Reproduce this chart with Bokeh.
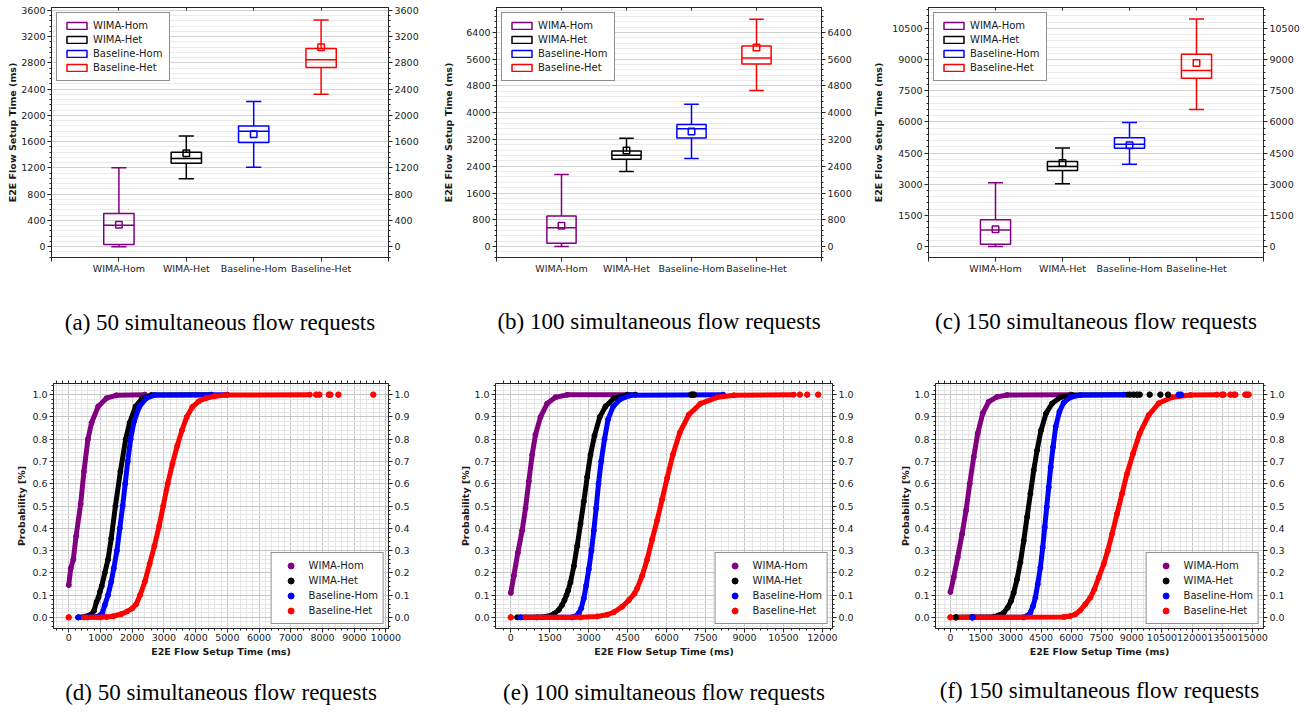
from bokeh.plotting import figure
from bokeh.models import (Range1d, LinearAxis, SingleIntervalTicker, FixedTicker, Grid,
                          PrintfTickFormatter, Legend, LegendItem, ColumnDataSource)
from bokeh.layouts import row, column
from bokeh.transform import dodge
from bokeh.embed import file_html
from bokeh.resources import INLINE

# ---------------- data ----------------
CATEGORIES = ["WIMA-Hom", "WIMA-Het", "Baseline-Hom", "Baseline-Het"]
COLORS = ["#800080", "#000000", "#0000ff", "#ff0000"]

# (a) 50 simultaneous flow requests: box statistics (ms)
A_LOW = [0, 1035, 1212, 2323]
A_Q1 = [35, 1273, 1586, 2732]
A_MED = [328, 1343, 1758, 2848]
A_Q3 = [505, 1439, 1838, 3020]
A_HIGH = [1202, 1687, 2212, 3455]
A_MEAN = [335, 1424, 1712, 3040]

# (b) 100 simultaneous flow requests
B_LOW = [0, 2242, 2629, 4663]
B_Q1 = [99, 2609, 3244, 5456]
B_MED = [565, 2728, 3522, 5635]
B_Q3 = [913, 2857, 3651, 5992]
B_HIGH = [2153, 3234, 4256, 6796]
B_MEAN = [625, 2867, 3442, 5952]

# (c) 150 simultaneous flow requests
C_LOW = [0, 3021, 3964, 6601]
C_Q1 = [112, 3660, 4731, 8103]
C_MED = [799, 3852, 4922, 8471]
C_Q3 = [1295, 4091, 5242, 9254]
C_HIGH = [3069, 4747, 5977, 10948]
C_MEAN = [831, 4027, 4880, 8838]

# (d) CDF, 50 requests
D_WH_X = [0, 63, 145, 230, 376, 480, 605, 720, 929, 1190, 1503, 2400]
D_WH_P = [0.145, 0.22, 0.26, 0.363, 0.509, 0.655, 0.80, 0.874, 0.947, 0.984, 0.997, 1.0]
D_WT_X = [300, 500, 700, 800, 877, 940, 980, 1040, 1137, 1240, 1340, 1472, 1629, 1796, 1921, 2109, 2318, 2600, 4500]
D_WT_P = [0.0, 0.003, 0.012, 0.03, 0.07, 0.09, 0.114, 0.14, 0.20, 0.26, 0.355, 0.50, 0.655, 0.80, 0.874, 0.947, 0.984, 0.998, 1.0]
D_BH_X = [300, 600, 900, 1000, 1060, 1137, 1240, 1340, 1420, 1520, 1610, 1700, 1780, 1860, 1950, 2060, 2230, 2450, 2700, 5000]
D_BH_P = [0.0, 0.0, 0.003, 0.01, 0.02, 0.055, 0.10, 0.16, 0.22, 0.30, 0.40, 0.50, 0.60, 0.70, 0.80, 0.88, 0.947, 0.984, 0.998, 1.0]
D_BT_X = [480, 1000, 1200, 1400, 1660, 1836, 2000, 2130, 2250, 2400, 2550, 2700, 2850, 2980, 3120, 3270, 3420, 3570, 3720, 3900, 4100, 4320, 4600, 4950, 7600]
D_BT_P = [0.0, 0.0, 0.002, 0.005, 0.015, 0.026, 0.04, 0.06, 0.10, 0.16, 0.24, 0.32, 0.41, 0.50, 0.60, 0.69, 0.77, 0.84, 0.90, 0.945, 0.97, 0.984, 0.993, 0.998, 1.0]
D_TAIL_X = [[], [], [], [0, 7800, 7900, 8200, 8250, 8500, 9600]]
D_TAIL_P = [[], [], [], [0.0, 1.0, 1.0, 1.0, 1.0, 1.0, 1.0]]

# (e) CDF, 100 requests
E_WH_X = [0, 116, 270, 437, 565, 693, 822, 950, 1143, 1400, 1721, 2170, 4480]
E_WH_P = [0.11, 0.187, 0.29, 0.39, 0.49, 0.61, 0.73, 0.82, 0.90, 0.96, 0.988, 0.999, 1.0]
E_WT_X = [244, 1000, 1400, 1656, 1849, 1977, 2067, 2144, 2208, 2298, 2427, 2555, 2684, 2812, 2940, 3069, 3223, 3428, 3647, 3968, 4481, 4800]
E_WT_P = [0.0, 0.0, 0.004, 0.015, 0.034, 0.056, 0.077, 0.10, 0.12, 0.158, 0.23, 0.32, 0.42, 0.52, 0.63, 0.73, 0.816, 0.90, 0.947, 0.984, 0.999, 1.0]
E_BH_X = [372, 2363, 2491, 2619, 2709, 2812, 2902, 3004, 3107, 3197, 3287, 3377, 3480, 3608, 3749, 3942, 4224, 4610, 8179]
E_BH_P = [0.0, 0.0, 0.004, 0.019, 0.04, 0.085, 0.143, 0.216, 0.30, 0.39, 0.49, 0.60, 0.70, 0.80, 0.89, 0.947, 0.98, 0.997, 1.0]
E_BT_X = [565, 2684, 3326, 3711, 3968, 4289, 4545, 4764, 4866, 5059, 5252, 5444, 5637, 5829, 6022, 6240, 6510, 6857, 7306, 7948, 8590, 10901]
E_BT_P = [0.0, 0.0, 0.004, 0.012, 0.023, 0.048, 0.077, 0.107, 0.13, 0.187, 0.26, 0.35, 0.436, 0.53, 0.626, 0.73, 0.83, 0.91, 0.96, 0.988, 0.997, 1.0]
E_TAIL_X = [[], [6950, 7010, 7060], [], [0, 11132, 11415, 11838]]
E_TAIL_P = [[], [1.0, 1.0, 1.0], [], [0.0, 1.0, 1.0, 1.0]]

# (f) CDF, 150 requests
F_WH_X = [0, 165, 364, 579, 777, 959, 1158, 1356, 1604, 1902, 2316, 2812, 5954]
F_WH_P = [0.114, 0.18, 0.27, 0.374, 0.48, 0.60, 0.72, 0.826, 0.916, 0.968, 0.99, 0.998, 1.0]
F_WT_X = [265, 2150, 2398, 2646, 2845, 3010, 3143, 3308, 3473, 3639, 3804, 3970, 4135, 4300, 4499, 4747, 5045, 5458, 6037, 8766]
F_WT_P = [0.0, 0.003, 0.009, 0.021, 0.044, 0.074, 0.111, 0.171, 0.247, 0.344, 0.45, 0.555, 0.66, 0.75, 0.84, 0.916, 0.96, 0.988, 0.998, 1.0]
F_BH_X = [1075, 3639, 3804, 3970, 4102, 4218, 4334, 4466, 4582, 4681, 4780, 4880, 4979, 5094, 5227, 5409, 5624, 5954, 6450, 8600]
F_BH_P = [0.0, 0.0, 0.006, 0.021, 0.051, 0.089, 0.149, 0.224, 0.314, 0.405, 0.495, 0.585, 0.675, 0.765, 0.856, 0.923, 0.964, 0.988, 0.998, 1.0]
F_BT_X = [300, 5624, 5954, 6202, 6450, 6699, 6947, 7145, 7360, 7608, 7807, 8022, 8270, 8518, 8766, 9064, 9395, 9841, 10338, 11000, 11909, 13232]
F_BT_P = [0.0, 0.0015, 0.006, 0.0135, 0.032, 0.059, 0.089, 0.126, 0.179, 0.239, 0.299, 0.374, 0.465, 0.555, 0.645, 0.735, 0.826, 0.908, 0.961, 0.988, 0.998, 1.0]
F_TAIL_X = [[], [265, 8899, 9097, 9262, 9395, 9891, 10420, 10801], [1075, 1110, 11330, 11446],
            [0, 13480, 13563, 13894, 14060, 14142, 14638, 14721, 14804]]
F_TAIL_P = [[], [0.0, 1.0, 1.0, 1.0, 1.0, 1.0, 1.0, 1.0], [0.0, 0.0, 1.0, 1.0],
            [0.0, 1.0, 1.0, 1.0, 1.0, 1.0, 1.0, 1.0, 1.0]]

CAPTIONS = ["(a) 50 simultaneous flow requests", "(b) 100 simultaneous flow requests",
            "(c) 150 simultaneous flow requests", "(d) 50 simultaneous flow requests",
            "(e) 100 simultaneous flow requests", "(f) 150 simultaneous flow requests"]

# ---------------- style ----------------
FONT = "DejaVu Sans"
TXT = "#1a1a1a"
SPINE = "#262626"
BOX_W = 0.45
CAP_W = 0.225
LEGEND_FONT_SIZE = "10px"


def style_axis(ax, standoff=2, tick_out=4, minor_out=2):
    ax.axis_line_color = SPINE
    ax.major_tick_line_color = SPINE
    ax.minor_tick_line_color = SPINE
    ax.major_tick_out = tick_out
    ax.major_tick_in = 0
    ax.minor_tick_out = minor_out
    ax.minor_tick_in = 0
    ax.major_label_text_font = FONT
    ax.major_label_text_font_size = "9.5px"
    ax.major_label_text_color = TXT
    ax.major_label_standoff = standoff
    ax.axis_label_text_font = FONT
    ax.axis_label_text_font_size = "9.5px"
    ax.axis_label_text_font_style = "bold"
    ax.axis_label_text_color = TXT


def ticks_only_axis(minor_positions, tick_in=0, tick_out=3):
    # an axis that only draws tick marks (no labels): all marks are given as minor ticks
    ax = LinearAxis(ticker=FixedTicker(ticks=[], minor_ticks=minor_positions))
    ax.axis_line_color = SPINE
    ax.minor_tick_line_color = SPINE
    ax.major_tick_line_color = None
    ax.minor_tick_in = tick_in
    ax.minor_tick_out = tick_out
    ax.major_tick_in = 0
    ax.major_tick_out = 0
    ax.major_label_standoff = 0
    return ax


def add_caption(p, text, standoff):
    cap = LinearAxis(ticker=FixedTicker(ticks=[]), axis_label=text, axis_label_standoff=standoff)
    cap.axis_line_color = None
    cap.major_tick_line_color = None
    cap.minor_tick_line_color = None
    cap.major_tick_out = 0
    cap.major_tick_in = 0
    cap.minor_tick_out = 0
    cap.minor_tick_in = 0
    cap.major_label_standoff = 0
    cap.axis_label_text_font = "Liberation Serif"
    cap.axis_label_text_font_size = "23px"
    cap.axis_label_text_font_style = "normal"
    cap.axis_label_text_color = "black"
    p.add_layout(cap, "below")


def base_fig(width, height, xr, yr, borders):
    left, right, top, bottom = borders
    p = figure(width=width, height=height, x_range=Range1d(*xr), y_range=Range1d(*yr),
               output_backend="svg", toolbar_location=None,
               x_axis_type=None, y_axis_type=None,
               min_border_left=left, min_border_right=right,
               min_border_top=top, min_border_bottom=bottom)
    p.outline_line_color = SPINE
    p.outline_line_width = 1
    p.background_fill_color = "white"
    p.border_fill_color = "white"
    return p


def box_panel(low, q1, med, q3, high, mean, yr, step, caption, width, borders, ylab_standoff, cap_standoff):
    n = len(CATEGORIES)
    pos = list(range(1, n + 1))
    p = base_fig(width, 345, (0, n + 1), yr, borders)
    yt = SingleIntervalTicker(interval=step, num_minor_ticks=5)
    xt = FixedTicker(ticks=pos, minor_ticks=[0, n + 1])

    bx = LinearAxis(ticker=xt, major_label_overrides={x: c for x, c in zip(pos, CATEGORIES)})
    style_axis(bx, standoff=1, minor_out=4)
    p.add_layout(bx, "below")
    p.add_layout(ticks_only_axis([0] + pos + [n + 1], tick_in=3, tick_out=0), "above")
    ly = LinearAxis(ticker=yt, axis_label="E2E Flow Setup Time (ms)", axis_label_standoff=ylab_standoff)
    style_axis(ly)
    p.add_layout(ly, "left")
    ry = LinearAxis(ticker=yt)
    style_axis(ry)
    p.add_layout(ry, "right")
    p.add_layout(Grid(dimension=1, ticker=yt, grid_line_color="#d3d3d3", grid_line_width=1.2,
                      minor_grid_line_color="#ebebeb", minor_grid_line_width=1))

    src = ColumnDataSource(dict(x=pos, low=low, q1=q1, med=med, q3=q3, high=high, mean=mean,
                                color=COLORS, label=CATEGORIES))
    lw = 1.5
    p.segment(x0="x", y0="q3", x1="x", y1="high", source=src, line_color="color", line_width=lw)
    p.segment(x0="x", y0="q1", x1="x", y1="low", source=src, line_color="color", line_width=lw)
    p.segment(x0=dodge("x", -CAP_W / 2), x1=dodge("x", CAP_W / 2), y0="high", y1="high",
              source=src, line_color="color", line_width=lw)
    p.segment(x0=dodge("x", -CAP_W / 2), x1=dodge("x", CAP_W / 2), y0="low", y1="low",
              source=src, line_color="color", line_width=lw)
    boxes = p.vbar(x="x", width=BOX_W, bottom="q1", top="q3", source=src,
                   fill_color=None, line_color="color", line_width=lw)
    p.segment(x0=dodge("x", -BOX_W / 2), x1=dodge("x", BOX_W / 2), y0="med", y1="med",
              source=src, line_color="color", line_width=lw)
    p.scatter(x="x", y="mean", source=src, marker="square", size=6.5, fill_color=None,
              line_color="color", line_width=lw)

    items = [LegendItem(label=c, renderers=[boxes], index=i) for i, c in enumerate(CATEGORIES)]
    leg = Legend(items=items, location="top_left", margin=5, padding=7,
                 glyph_width=25, glyph_height=9, label_height=11, spacing=3, label_standoff=4,
                 label_text_font=FONT, label_text_font_size=LEGEND_FONT_SIZE, label_text_color=TXT,
                 border_line_color="#222222", border_line_width=1.2,
                 background_fill_color="white", background_fill_alpha=1)
    p.add_layout(leg)
    add_caption(p, caption, cap_standoff)
    return p


def cdf_panel(curves, tails_x, tails_p, xr, step, caption, width, borders, ylab_standoff, cap_standoff):
    p = base_fig(width, 367, xr, (-0.05, 1.05), borders)
    xt = SingleIntervalTicker(interval=step, num_minor_ticks=5)
    yt = SingleIntervalTicker(interval=0.1, num_minor_ticks=5)

    bx = LinearAxis(ticker=xt, axis_label="E2E Flow Setup Time (ms)", axis_label_standoff=2)
    style_axis(bx, standoff=1)
    p.add_layout(bx, "below")
    top_marks = [k * step / 5 for k in range(int(xr[0] * 5 // step), int(xr[1] * 5 // step) + 1)]
    p.add_layout(ticks_only_axis(top_marks, tick_in=0, tick_out=3), "above")
    ly = LinearAxis(ticker=yt, formatter=PrintfTickFormatter(format="%.1f"),
                    axis_label="Probability [%]", axis_label_standoff=ylab_standoff)
    style_axis(ly)
    p.add_layout(ly, "left")
    ry = LinearAxis(ticker=yt, formatter=PrintfTickFormatter(format="%.1f"))
    style_axis(ry)
    p.add_layout(ry, "right")
    for dim, tk in ((0, xt), (1, yt)):
        p.add_layout(Grid(dimension=dim, ticker=tk, grid_line_color="#c6c6c6", grid_line_width=1,
                          minor_grid_line_color="#e6e6e6", minor_grid_line_width=1))

    legend_renderers = []
    for (xs, ps), color in zip(curves, COLORS):
        p.line(xs, ps, line_color=color, line_width=5, line_cap="round", line_join="round")
        r = p.scatter(xs, ps, size=5, color=color)
        legend_renderers.append(r)
    for xs, ps, color in zip(tails_x, tails_p, COLORS):
        if xs:
            p.scatter(xs, ps, size=5.5, color=color)

    items = [LegendItem(label=c, renderers=[r]) for c, r in zip(CATEGORIES, legend_renderers)]
    leg = Legend(items=items, location="bottom_right", margin=4, padding=5,
                 glyph_width=28, glyph_height=15, label_height=15, spacing=-1, label_standoff=4,
                 label_text_font=FONT, label_text_font_size=LEGEND_FONT_SIZE, label_text_color=TXT,
                 border_line_color="#222222", border_line_width=1.2,
                 background_fill_color="white", background_fill_alpha=1)
    p.add_layout(leg)
    add_caption(p, caption, cap_standoff)
    return p


pa = box_panel(A_LOW, A_Q1, A_MED, A_Q3, A_HIGH, A_MEAN, (-165, 3645), 400, CAPTIONS[0],
               440, (51, 52, 6, 88), 0, 33)
pb = box_panel(B_LOW, B_Q1, B_MED, B_Q3, B_HIGH, B_MEAN, (-327, 7144), 800, CAPTIONS[1],
               430, (45, 49, 7, 87), 9, 32)
pc = box_panel(C_LOW, C_Q1, C_MED, C_Q3, C_HIGH, C_MEAN, (-527, 11507), 1500, CAPTIONS[2],
               442, (57, 49, 7, 87), 5, 32)

pd = cdf_panel([(D_WH_X, D_WH_P), (D_WT_X, D_WT_P), (D_BH_X, D_BH_P), (D_BT_X, D_BT_P)],
               D_TAIL_X, D_TAIL_P, (-480, 10080), 1000, CAPTIONS[3], 440, (53, 52, 35, 80), 2, 20)
pe = cdf_panel([(E_WH_X, E_WH_P), (E_WT_X, E_WT_P), (E_BH_X, E_BH_P), (E_BT_X, E_BT_P)],
               E_TAIL_X, E_TAIL_P, (-590, 12390), 1500, CAPTIONS[4], 430, (55, 38, 35, 80), 0, 20)
pf = cdf_panel([(F_WH_X, F_WH_P), (F_WT_X, F_WT_P), (F_BH_X, F_BH_P), (F_BT_X, F_BT_P)],
               F_TAIL_X, F_TAIL_P, (-740, 15540), 1500, CAPTIONS[5], 442, (65, 49, 38, 84), 0, 18)

layout = column(row(pa, pb, pc), row(pd, pe, pf))

with open("out.html", "w") as f:
    f.write(file_html(layout, INLINE))
